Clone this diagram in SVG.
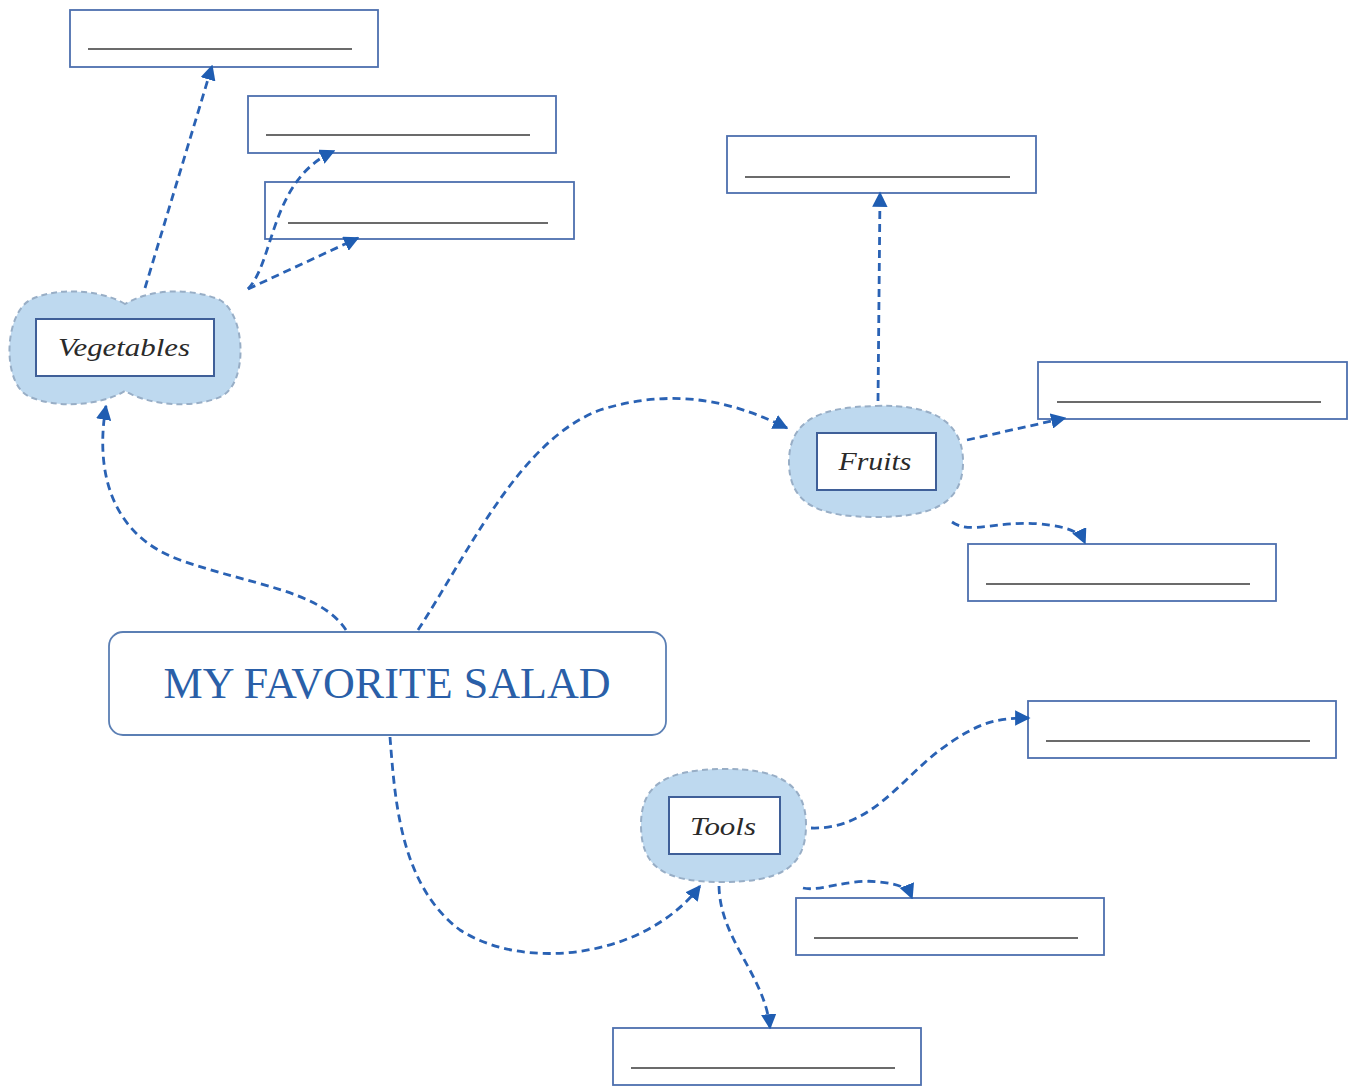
<svg xmlns="http://www.w3.org/2000/svg" width="1359" height="1090" viewBox="0 0 1359 1090">
<defs>
<style>
.ans{fill:#fff;stroke:#4d6fae;stroke-width:1.8}
.ln{stroke:#3a3a3a;stroke-width:1.6}
.blob{fill:#bed9ef;stroke:#98aec6;stroke-width:2;stroke-dasharray:6 4}
.lbl{fill:#fff;stroke:#3f5f98;stroke-width:2}
.lt{font-family:"Liberation Serif","DejaVu Serif",serif;font-style:italic;font-size:26px;fill:#2a2a2a;text-anchor:middle}
.con{fill:none;stroke:#2a62b4;stroke-width:2.8;stroke-dasharray:8 5;marker-end:url(#ah)}
</style>
<marker id="ah" viewBox="0 0 10 10" refX="9" refY="5" markerWidth="5.5" markerHeight="5.5" markerUnits="strokeWidth" orient="auto">
<path d="M0,0 L10,5 L0,10 Z" fill="#1f5db2"/>
</marker>
</defs>
<rect width="1359" height="1090" fill="#fff"/>

<g id="box1"><rect class="ans" x="70" y="10" width="308" height="57"/><line class="ln" x1="88" y1="49" x2="352" y2="49"/></g>
<g id="box2"><rect class="ans" x="248" y="96" width="308" height="57"/><line class="ln" x1="266" y1="135" x2="530" y2="135"/></g>
<g id="box3"><rect class="ans" x="265" y="182" width="309" height="57"/><line class="ln" x1="288" y1="223" x2="548" y2="223"/></g>
<g id="box4"><rect class="ans" x="727" y="136" width="309" height="57"/><line class="ln" x1="745" y1="177" x2="1010" y2="177"/></g>
<g id="box5"><rect class="ans" x="1038" y="362" width="309" height="57"/><line class="ln" x1="1057" y1="402" x2="1321" y2="402"/></g>
<g id="box6"><rect class="ans" x="968" y="544" width="308" height="57"/><line class="ln" x1="986" y1="584" x2="1250" y2="584"/></g>
<g id="box7"><rect class="ans" x="1028" y="701" width="308" height="57"/><line class="ln" x1="1046" y1="741" x2="1310" y2="741"/></g>
<g id="box8"><rect class="ans" x="796" y="898" width="308" height="57"/><line class="ln" x1="814" y1="938" x2="1078" y2="938"/></g>
<g id="box9"><rect class="ans" x="613" y="1028" width="308" height="57"/><line class="ln" x1="631" y1="1068" x2="895" y2="1068"/></g>

<g id="main">
<rect x="109" y="632" width="557" height="103" rx="14" fill="#fff" stroke="#5b7fb4" stroke-width="1.8"/>
<text x="387" y="698" font-family="'Liberation Serif','DejaVu Serif',serif" font-size="44" fill="#2a5fa8" text-anchor="middle" textLength="447" lengthAdjust="spacingAndGlyphs">MY FAVORITE SALAD</text>
</g>

<g id="vegetables">
<path class="blob" d="M125,304 C100,289 55,287 30,300 C4,315 2,382 28,396 C55,409 100,406 125,391 C150,406 195,409 222,396 C248,382 246,315 220,300 C190,287 150,289 125,304 Z"/>
<rect class="lbl" x="36" y="319" width="178" height="57"/>
<text class="lt" x="124" y="356" textLength="132" lengthAdjust="spacingAndGlyphs">Vegetables</text>
</g>

<g id="fruits">
<path class="blob" d="M876,406 C930,404 962,420 963,460 C964,505 930,517 876,517 C820,517 789,505 789,462 C789,420 820,407 876,406 Z"/>
<rect class="lbl" x="817" y="433" width="119" height="57"/>
<text class="lt" x="875" y="470" textLength="73" lengthAdjust="spacingAndGlyphs">Fruits</text>
</g>

<g id="tools">
<path class="blob" d="M722,769 C780,768 806,785 806,825 C806,868 780,882 722,882 C665,882 641,868 641,825 C641,785 665,770 722,769 Z"/>
<rect class="lbl" x="669" y="797" width="111" height="57"/>
<text class="lt" x="723" y="835" textLength="66" lengthAdjust="spacingAndGlyphs">Tools</text>
</g>

<g id="connectors">
<path class="con" d="M145,288 L212,66"/>
<path class="con" d="M248,289 C275,260 270,180 334,151"/>
<path class="con" d="M248,289 L358,238"/>
<path class="con" d="M346,630 C320,590 250,585 180,560 C110,535 95,470 106,406"/>
<path class="con" d="M418,630 C470,550 520,440 600,410 C680,385 740,405 787,428"/>
<path class="con" d="M878,401 L880,193"/>
<path class="con" d="M967,440 L1065,418"/>
<path class="con" d="M952,522 C970,535 1000,520 1040,524 C1070,527 1080,532 1085,543"/>
<path class="con" d="M390,737 C395,800 400,885 460,930 C525,972 645,958 700,886"/>
<path class="con" d="M811,828 C870,830 900,780 940,750 C980,720 1000,718 1029,718"/>
<path class="con" d="M803,888 C820,892 850,878 880,882 C900,884 908,888 912,898"/>
<path class="con" d="M719,886 C720,940 765,975 770,1028"/>
</g>
</svg>
